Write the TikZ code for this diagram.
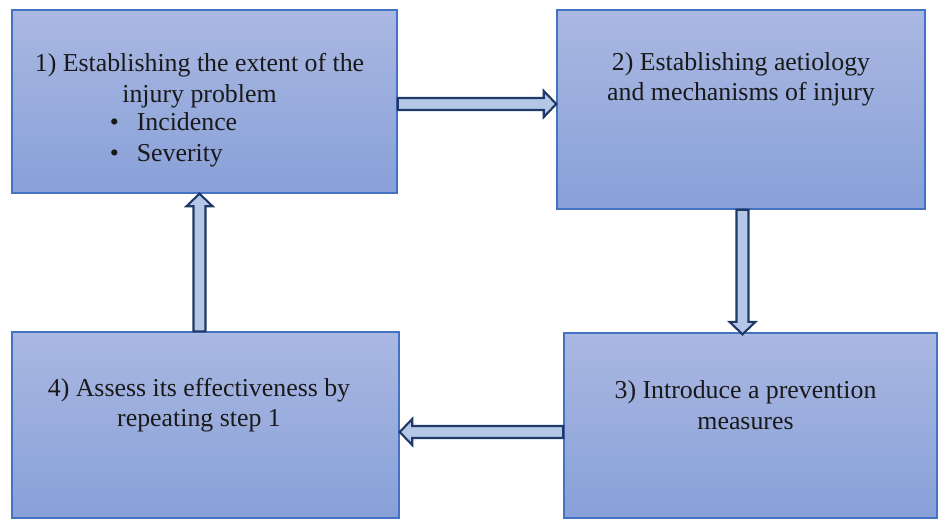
\documentclass[tikz,border=0pt]{standalone}
\usepackage{fontspec}
\setmainfont{Liberation Serif}
\usepackage{tikz}
\usetikzlibrary{
	calc,
	positioning
}
\definecolor{BoxTop}{RGB}{170,184,226}
\definecolor{BoxBottom}{RGB}{136,160,216}
\definecolor{BoxLine}{RGB}{68,114,196}
\definecolor{ArrowFill}{RGB}{180,199,231}
\definecolor{ArrowLine}{RGB}{31,56,100}

% hollow block arrow from #1 to #2
\newcommand{\blockarrow}[2]{%
	\coordinate (hb) at ($(#2)!0.25cm!(#1)$);
	\draw[blockarrow] ($(#1)!0.12cm!90:(#2)$) -- ($(hb)!0.12cm!90:(#2)$) -- ($(hb)!0.26cm!90:(#2)$) -- (#2)
		-- ($(hb)!0.26cm!-90:(#2)$) -- ($(hb)!0.12cm!-90:(#2)$) -- ($(#1)!0.12cm!-90:(#2)$) -- cycle;
}

\begin{document}
\begin{tikzpicture}[
		box/.style={draw=BoxLine, line width=0.8pt, top color=BoxTop, bottom color=BoxBottom, inner sep=0pt},
		txt/.style={align=center, font=\fontsize{14.7}{17.4}\selectfont, text=black!90},
		blockarrow/.style={draw=ArrowLine, fill=ArrowFill, line width=1.2pt}
	]
		\useasboundingbox (0,0) rectangle (18.76,-10.38);
		% boxes
		\node[box, minimum width=7.70cm, minimum height=3.66cm] (box1) at (4.09,-2.03) {};
		\node[box, minimum width=7.36cm, minimum height=3.98cm] (box2) at (14.82,-2.19) {};
		\node[box, minimum width=7.46cm, minimum height=3.70cm] (box3) at (15.01,-8.51) {};
		\node[box, minimum width=7.74cm, minimum height=3.72cm] (box4) at (4.11,-8.50) {};
		% texts
		\node[txt] (t1) at ([xshift=-0.1cm, yshift=-0.21cm]box1.center) {1) Establishing the extent of the\\ injury problem\\
			\begin{tabular}{@{}l@{}}\textbullet\hspace{0.36cm}Incidence\\ \textbullet\hspace{0.36cm}Severity\end{tabular}\hspace*{1.04cm}};
		\node[txt] (t2) at ([yshift=0.60cm]box2.center) {2) Establishing aetiology\\ and mechanisms of injury};
		\node[txt] (t3) at ([xshift=-0.1cm, yshift=0.41cm]box3.center) {3) Introduce a prevention\\ measures};
		\node[txt] (t4) at ([xshift=-0.13cm, yshift=0.40cm]box4.center) {4) Assess its effectiveness by\\ repeating step 1};
		% arrows
		\coordinate (a1) at ([yshift=-0.05cm]box1.east);
		\coordinate (a2) at (a1 -| box2.west);
		\coordinate (b1) at ([xshift=0.03cm]box2.south);
		\coordinate (b2) at ([yshift=-0.04cm]b1 |- box3.north);
		\coordinate (c1) at ([yshift=-0.13cm]box3.west);
		\coordinate (c2) at (c1 -| box4.east);
		\coordinate (d1) at ([xshift=-0.12cm]box4.north);
		\coordinate (d2) at (d1 |- box1.south);
		\blockarrow{a1}{a2}
		\blockarrow{b1}{b2}
		\blockarrow{c1}{c2}
		\blockarrow{d1}{d2}
	\end{tikzpicture}
\end{document}
